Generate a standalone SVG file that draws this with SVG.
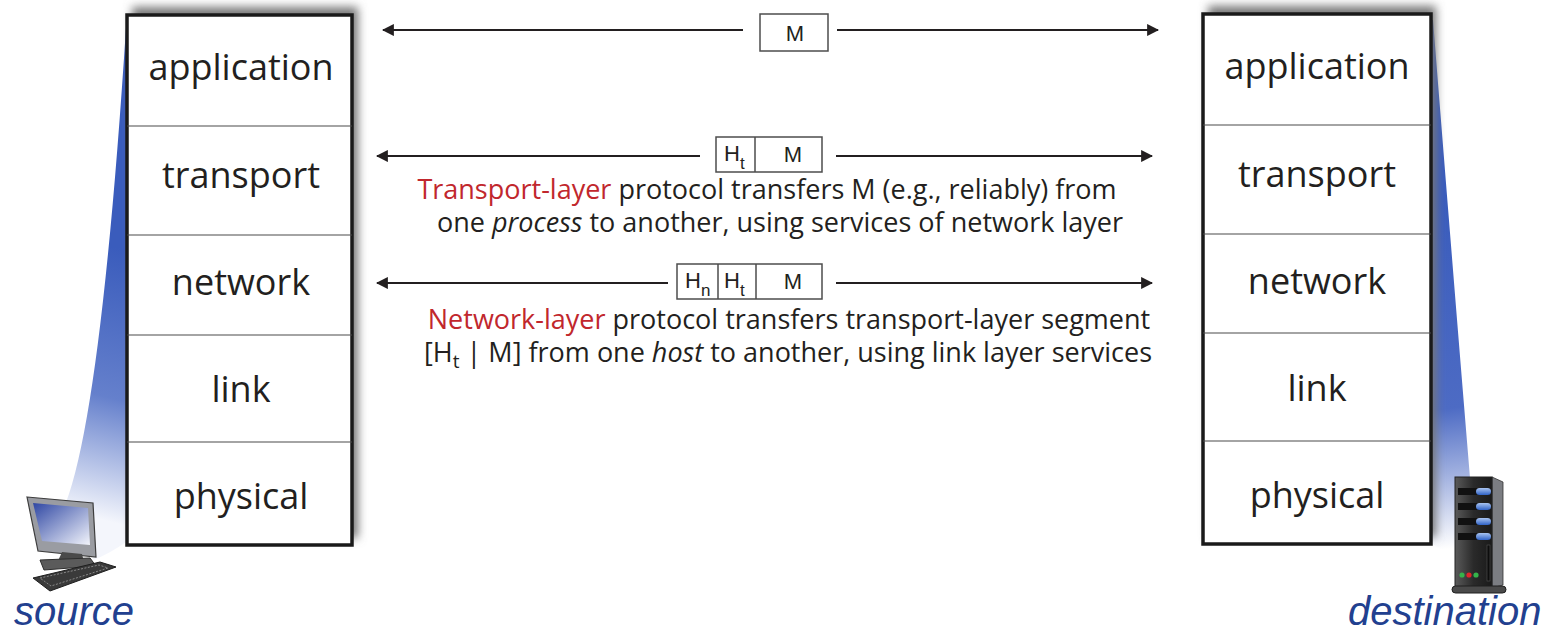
<svg xmlns="http://www.w3.org/2000/svg" width="1553" height="631" viewBox="0 0 1553 631">
  <style>
    .stack { fill: #ffffff; stroke: #1a1a1a; stroke-width: 3.5; }
    .divider { stroke: #4a4a4a; stroke-width: 1.2; }
    .layer { font-family: "Open Sans", "Liberation Sans", sans-serif; font-size: 36px; fill: #231f20; text-anchor: middle; }
    .conn { stroke: #231f20; stroke-width: 2.2; fill: none; }
    .pdu { fill: #ffffff; stroke: #4d4d4d; stroke-width: 1.5; }
    .pdutext { font-family: "Liberation Sans", sans-serif; font-size: 22px; fill: #231f20; }
    .sub { font-size: 17px; }
    .note { font-family: "Open Sans", "Liberation Sans", sans-serif; font-size: 27px; fill: #231f20; text-anchor: middle; }
    .red { fill: #c1272d; }
    .host { font-family: "Liberation Sans", Arial, sans-serif; font-size: 40px; font-style: italic; fill: #22408f; }
  </style>
  <defs>
    <marker id="arrow" viewBox="0 0 10 10" refX="9" refY="5" markerWidth="5.5" markerHeight="5.5" orient="auto-start-reverse" markerUnits="strokeWidth">
      <path d="M0,0 L10,5 L0,10 Z" fill="#231f20"/>
    </marker>
    <filter id="shadow" x="-20%" y="-20%" width="140%" height="140%">
      <feGaussianBlur stdDeviation="5"/>
    </filter>
    <linearGradient id="beamL" gradientUnits="userSpaceOnUse" x1="126" y1="250" x2="62" y2="510">
      <stop offset="0" stop-color="#3a5cbc"/>
      <stop offset="0.55" stop-color="#6580cc"/>
      <stop offset="1" stop-color="#f4f6fc"/>
    </linearGradient>
    <linearGradient id="beamR" gradientUnits="userSpaceOnUse" x1="1432" y1="200" x2="1478" y2="545">
      <stop offset="0" stop-color="#3a5cbc"/>
      <stop offset="0.6" stop-color="#4d6bc4"/>
      <stop offset="1" stop-color="#ffffff"/>
    </linearGradient>
    <linearGradient id="screen" x1="0" y1="0" x2="1" y2="1">
      <stop offset="0" stop-color="#2f47a3"/>
      <stop offset="1" stop-color="#f2f4fb"/>
    </linearGradient>
    <linearGradient id="towerFront" x1="0" y1="0" x2="1" y2="0">
      <stop offset="0" stop-color="#5a5a5a"/>
      <stop offset="0.5" stop-color="#2a2a2a"/>
      <stop offset="1" stop-color="#1a1a1a"/>
    </linearGradient>
    <linearGradient id="light" x1="0" y1="0" x2="0" y2="1">
      <stop offset="0" stop-color="#a9c4f0"/>
      <stop offset="1" stop-color="#2f62c6"/>
    </linearGradient>
  </defs>

  <!-- beams from host icons to protocol stacks -->
  <path d="M126,28 L126,542 Q112,552 94,560 L62,512 Q100,430 126,28 Z" fill="url(#beamL)"/>
  <path d="M1431,20 L1431,543 Q1444,552 1458,560 L1470,478 Q1452,260 1433,20 Z" fill="url(#beamR)"/>

  <!-- source stack -->
  <g id="source-stack">
    <rect x="132" y="7" width="226" height="531" fill="#777" filter="url(#shadow)"/>
    <rect class="stack" x="127" y="15" width="225" height="530"/>
    <line class="divider" x1="127" y1="126" x2="352" y2="126"/>
    <line class="divider" x1="127" y1="235" x2="352" y2="235"/>
    <line class="divider" x1="127" y1="335" x2="352" y2="335"/>
    <line class="divider" x1="127" y1="442" x2="352" y2="442"/>
    <text class="layer" x="241" y="80">application</text>
    <text class="layer" x="241" y="188">transport</text>
    <text class="layer" x="241" y="295">network</text>
    <text class="layer" x="241" y="402">link</text>
    <text class="layer" x="241" y="509">physical</text>
  </g>

  <!-- destination stack -->
  <g id="destination-stack">
    <rect x="1208" y="6" width="228" height="531" fill="#777" filter="url(#shadow)"/>
    <rect class="stack" x="1203" y="14" width="228" height="530"/>
    <line class="divider" x1="1203" y1="125" x2="1431" y2="125"/>
    <line class="divider" x1="1203" y1="234" x2="1431" y2="234"/>
    <line class="divider" x1="1203" y1="333" x2="1431" y2="333"/>
    <line class="divider" x1="1203" y1="441" x2="1431" y2="441"/>
    <text class="layer" x="1317" y="79">application</text>
    <text class="layer" x="1317" y="187">transport</text>
    <text class="layer" x="1317" y="294">network</text>
    <text class="layer" x="1317" y="401">link</text>
    <text class="layer" x="1317" y="508">physical</text>
  </g>

  <!-- logical communication between peer layers -->
  <g id="connectors">
    <line class="conn" x1="743" y1="30" x2="383" y2="30" marker-end="url(#arrow)"/>
    <line class="conn" x1="837" y1="30" x2="1158" y2="30" marker-end="url(#arrow)"/>
    <line class="conn" x1="700" y1="156" x2="377" y2="156" marker-end="url(#arrow)"/>
    <line class="conn" x1="836" y1="156" x2="1152" y2="156" marker-end="url(#arrow)"/>
    <line class="conn" x1="668" y1="283" x2="377" y2="283" marker-end="url(#arrow)"/>
    <line class="conn" x1="836" y1="283" x2="1152" y2="283" marker-end="url(#arrow)"/>
  </g>

  <!-- application message -->
  <g id="pdu-message">
    <rect class="pdu" x="760" y="14" width="68" height="37"/>
    <text class="pdutext" x="795" y="41" text-anchor="middle">M</text>
  </g>

  <!-- transport segment -->
  <g id="pdu-segment">
    <rect class="pdu" x="716" y="137" width="106" height="35"/>
    <line class="pdu" x1="755" y1="137" x2="755" y2="172"/>
    <text class="pdutext" x="724" y="161">H<tspan class="sub" dy="8">t</tspan></text>
    <text class="pdutext" x="793" y="162" text-anchor="middle">M</text>
  </g>

  <g id="transport-note">
    <text class="note" x="767" y="199"><tspan class="red">Transport-layer</tspan> protocol transfers M (e.g., reliably) from</text>
    <text class="note" x="780" y="232">one <tspan font-style="italic">process</tspan> to another, using services of network layer</text>
  </g>

  <!-- network datagram -->
  <g id="pdu-datagram">
    <rect class="pdu" x="677" y="264" width="145" height="35"/>
    <line class="pdu" x1="718" y1="264" x2="718" y2="299"/>
    <line class="pdu" x1="756" y1="264" x2="756" y2="299"/>
    <text class="pdutext" x="685" y="288">H<tspan class="sub" dy="8">n</tspan></text>
    <text class="pdutext" x="724" y="288">H<tspan class="sub" dy="8">t</tspan></text>
    <text class="pdutext" x="793" y="289" text-anchor="middle">M</text>
  </g>

  <g id="network-note">
    <text class="note" x="789" y="329"><tspan class="red">Network-layer</tspan> protocol transfers transport-layer segment</text>
    <text class="note" x="788" y="362">[H<tspan font-size="19" dy="6">t</tspan><tspan dy="-6"> | M] from one </tspan><tspan font-style="italic">host</tspan> to another, using link layer services</text>
  </g>

  <!-- source host: desktop computer -->
  <g id="source-host">
    <polygon points="27,497 93,503 96,557 38,551" fill="#9a9ca2" stroke="#3d3d3d" stroke-width="1.2"/>
    <polygon points="33,503 88,508 90,545 42,541" fill="url(#screen)"/>
    <polygon points="62,552 82,554 84,562 58,561" fill="#4a4a4a"/>
    <polygon points="40,560 90,558 96,566 44,570" fill="#5b5b5b" stroke="#2e2e2e" stroke-width="1"/>
    <polygon points="33,578 100,562 116,567 50,591" fill="#3a3a3a" stroke="#1e1e1e" stroke-width="1"/>
    <polygon points="40,578 99,565 108,568 51,586" fill="none" stroke="#9a9a9a" stroke-width="0.8" stroke-dasharray="2 1.5"/>
    <text class="host" x="14" y="625">source</text>
  </g>

  <!-- destination host: server tower -->
  <g id="destination-host">
    <polygon points="1492,477 1503,482 1503,585 1492,588" fill="#7b7d82" stroke="#333" stroke-width="0.8"/>
    <rect x="1455" y="477" width="37" height="111" fill="url(#towerFront)" stroke="#222" stroke-width="1"/>
    <rect x="1458" y="488" width="31" height="7" fill="#111"/>
    <rect x="1458" y="503" width="31" height="7" fill="#111"/>
    <rect x="1458" y="518" width="31" height="7" fill="#111"/>
    <rect x="1458" y="533" width="31" height="7" fill="#111"/>
    <rect x="1476" y="488" width="15" height="7" rx="3.5" fill="url(#light)"/>
    <rect x="1476" y="503" width="15" height="7" rx="3.5" fill="url(#light)"/>
    <rect x="1476" y="518" width="15" height="7" rx="3.5" fill="url(#light)"/>
    <rect x="1476" y="533" width="15" height="7" rx="3.5" fill="url(#light)"/>
    <rect x="1487" y="545" width="3" height="36" fill="#0d0d0d" stroke="#555" stroke-width="0.6"/>
    <circle cx="1462" cy="575" r="2.6" fill="#35b34a"/>
    <circle cx="1469" cy="575" r="2.6" fill="#e0242b"/>
    <circle cx="1476" cy="575" r="2.6" fill="#35b34a"/>
    <rect x="1452" y="586" width="54" height="7" rx="3.5" fill="#4a4a4a" stroke="#1e1e1e" stroke-width="1"/>
    <text class="host" x="1348" y="625" font-size="40.5">destination</text>
  </g>
</svg>
